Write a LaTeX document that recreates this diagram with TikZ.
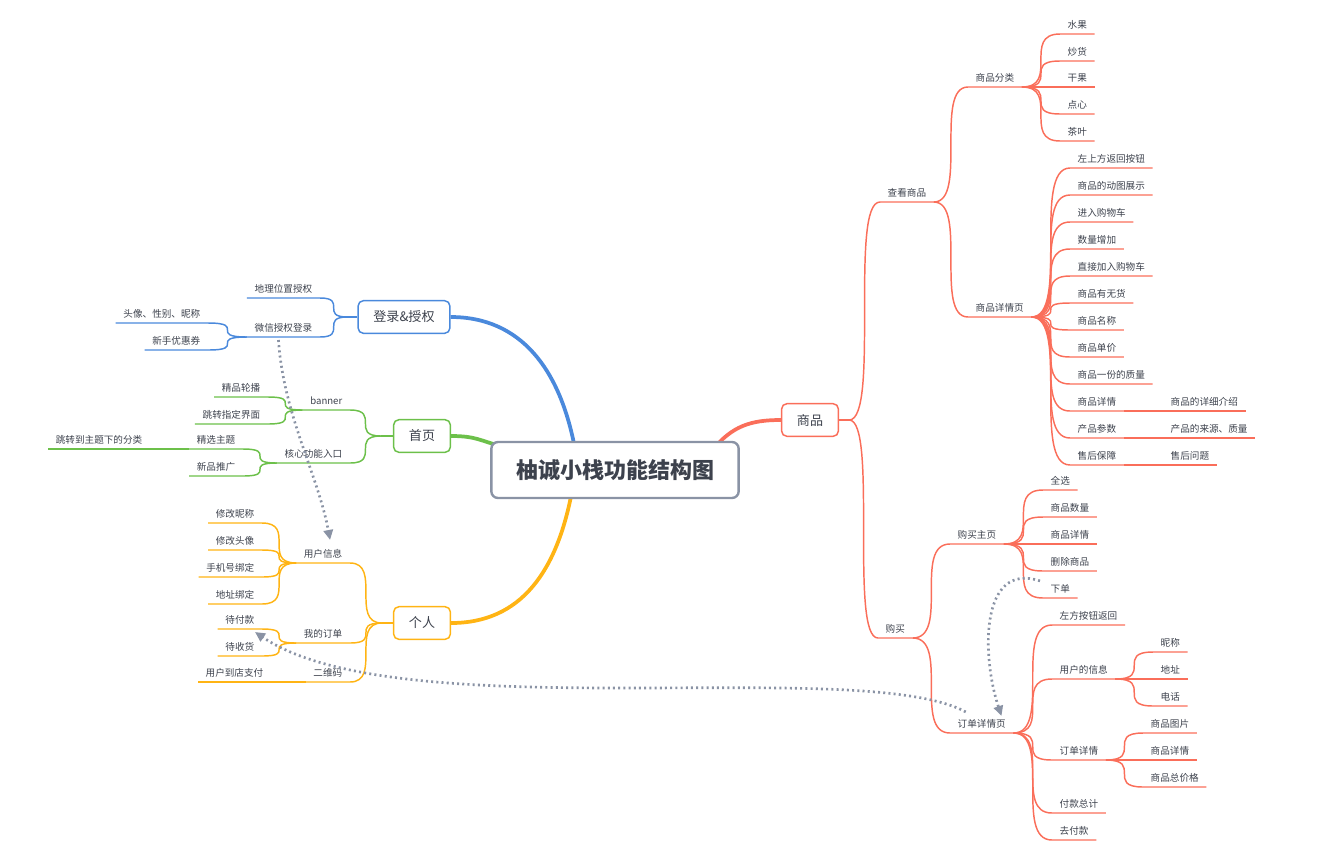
\documentclass[tikz,border=0pt]{standalone}
\usepackage{fontspec}
\newfontfamily\cjk{Noto Sans CJK SC}
\usetikzlibrary{arrows.meta, calc, backgrounds}

\definecolor{ink}{RGB}{61,66,77}
\definecolor{goodsred}{RGB}{250,110,90}
\definecolor{loginblue}{RGB}{74,137,220}
\definecolor{homegreen}{RGB}{108,192,74}
\definecolor{meorange}{RGB}{255,180,20}
\definecolor{rootgray}{RGB}{138,147,165}

\newcommand\leaffont{\cjk\fontsize{7.2}{8.6}\selectfont}
\newcommand\topicfont{\cjk\fontsize{9.8}{11}\selectfont}

\tikzset{
  leaf/.style={font=\leaffont, text=ink, inner xsep=5.6pt, inner ysep=3.3pt,
    text height=6.3pt, text depth=1pt},
  topic/.style={draw=#1, fill=white, line width=1.1pt, rounded corners=4pt,
    minimum height=24.5pt, inner xsep=11.5pt, font=\topicfont, text=ink},
  rootbox/.style={draw=rootgray, fill=white, line width=1.8pt, rounded corners=5pt,
    minimum height=42pt, inner xsep=18.5pt, text=ink,
    font=\cjk\bfseries\fontsize{16.5}{20}\selectfont},
  goodsln/.style={draw=goodsred, line width=1.1pt},
  loginln/.style={draw=loginblue, line width=1.1pt},
  homeln/.style={draw=homegreen, line width=1.1pt},
  meln/.style={draw=meorange, line width=1.1pt},
  trunk/.style={line width=2.8pt},
  link/.style={to path={.. controls (\tikztostart -| \tikztotarget)
    and (\tikztotarget -| \tikztostart) .. (\tikztotarget)}},
  jump/.style={draw=rootgray, line width=2pt, dash pattern=on 1.5pt off 2.4pt,
    -{Triangle[length=7.5pt, width=7pt]}}
}

\begin{document}
\begin{tikzpicture}[x=0.75pt, y=-0.75pt]
  \useasboundingbox (0,0) rectangle (1331,854);

  % Centre and main topics
  \node[rootbox] (root) at (615,470) {柚诚小栈功能结构图};
  \node[topic=goodsred] (goods) at (810,420) {商品};
  \node[topic=loginblue] (login) at (404,317) {登录\&授权};
  \node[topic=homegreen] (home) at (422,436) {首页};
  \node[topic=meorange] (person) at (422,623) {个人};

  % Trunks
  \begin{scope}[on background layer]
    \draw[trunk, goodsred] ($(root.north east)+(-28,10)$) .. controls +(20,-25) and +(-30,0) .. (goods.west);
    \draw[trunk, loginblue] ($(root.north)+(-40,8)$) .. controls +(-15,-80) and +(70,0) .. (login.east);
    \draw[trunk, homegreen] (home.east) .. controls +(25,0) and +(-20,-5) .. ($(root.north west)+(10,5)$);
    \draw[trunk, meorange] ($(root.south)+(-43,-8)$) .. controls +(-15,80) and +(70,0) .. (person.east);
  \end{scope}

  % Forks next to the topic boxes
  \coordinate (gfork) at ($(goods.east)+(10,0)$);
  \coordinate (lfork) at ($(login.west)+(-10,0)$);
  \coordinate (hfork) at ($(home.west)+(-12,0)$);
  \coordinate (pfork) at ($(person.west)+(-11,0)$);
  \draw[goodsln] (goods.east) -- (gfork);
  \draw[loginln] (login.west) -- (lfork);
  \draw[homeln] (home.west) -- (hfork);
  \draw[meln] (person.west) -- (pfork);

  % ---- goods ----
  \foreach \x/\y/\n/\t in {880/202/see/查看商品, 878/638/buy/购买} {
    \node[leaf, anchor=south west] (\n) at (\x,\y) {\t};
    \draw[goodsln] (gfork) to[link] (\n.south west) -- (\n.south east);
  }
  \foreach \y/\n/\t in {87/cat/商品分类, 317/page/商品详情页} {
    \node[leaf, anchor=south west] (\n) at (968,\y) {\t};
    \draw[goodsln] (see.south east) to[link] (\n.south west) -- (\n.south east);
  }
  \foreach \y/\n/\t in {34/fruit/水果, 61/nuts/炒货, 87/dried/干果, 114/snack/点心, 141/tea/茶叶} {
    \node[leaf, anchor=south west] (\n) at (1060,\y) {\t};
    \draw[goodsln] (cat.south east) to[link] (\n.south west) -- (\n.south east);
  }
  \foreach \y/\n/\t in {168/back/左上方返回按钮, 195/gif/商品的动图展示, 222/cart/进入购物车,
      249/qty/数量增加, 276/addcart/直接加入购物车, 303/stock/商品有无货, 330/pname/商品名称,
      357/price/商品单价, 384/weight/商品一份的质量, 411/info/商品详情, 438/param/产品参数,
      465/after/售后保障} {
    \node[leaf, anchor=south west] (\n) at (1070,\y) {\t};
    \draw[goodsln] (page.south east) to[link] (\n.south west) -- (\n.south east);
  }
  \foreach \y/\p/\n/\t in {411/info/infox/商品的详细介绍, 438/param/paramx/产品的来源、质量,
      465/after/afterx/售后问题} {
    \node[leaf, anchor=south west] (\n) at (1163,\y) {\t};
    \draw[goodsln] (\p.south east) -- (\n.south west) -- (\n.south east);
  }
  \foreach \y/\n/\t in {544/bhome/购买主页, 733/order/订单详情页} {
    \node[leaf, anchor=south west] (\n) at (950,\y) {\t};
    \draw[goodsln] (buy.south east) to[link] (\n.south west) -- (\n.south east);
  }
  \foreach \y/\n/\t in {490/all/全选, 517/bqty/商品数量, 544/binfo/商品详情, 571/del/删除商品, 598/place/下单} {
    \node[leaf, anchor=south west] (\n) at (1043,\y) {\t};
    \draw[goodsln] (bhome.south east) to[link] (\n.south west) -- (\n.south east);
  }
  \foreach \y/\n/\t in {625/oback/左方按钮返回, 679/user/用户的信息, 760/odetail/订单详情,
      813/total/付款总计, 840/pay/去付款} {
    \node[leaf, anchor=south west] (\n) at (1052,\y) {\t};
    \draw[goodsln] (order.south east) to[link] (\n.south west) -- (\n.south east);
  }
  \foreach \y/\n/\t in {652/nick/昵称, 679/addr/地址, 706/tel/电话} {
    \node[leaf, anchor=south west] (\n) at (1153,\y) {\t};
    \draw[goodsln] (user.south east) to[link] (\n.south west) -- (\n.south east);
  }
  \foreach \y/\n/\t in {733/pic/商品图片, 760/gdetail/商品详情, 787/sum/商品总价格} {
    \node[leaf, anchor=south west] (\n) at (1143,\y) {\t};
    \draw[goodsln] (odetail.south east) to[link] (\n.south west) -- (\n.south east);
  }

  % ---- login ----
  \foreach \y/\n/\t in {298/geo/地理位置授权, 337/wechat/微信授权登录} {
    \node[leaf, anchor=south east] (\n) at (320,\y) {\t};
    \draw[loginln] (lfork) to[link] (\n.south east) -- (\n.south west);
  }
  \foreach \y/\n/\t in {323/avatar/头像、性别、昵称, 350/coupon/新手优惠券} {
    \node[leaf, anchor=south east] (\n) at (208,\y) {\t};
    \draw[loginln] (wechat.south west) to[link] (\n.south east) -- (\n.south west);
  }

  % ---- home ----
  \foreach \y/\n/\t in {410/banner/banner, 463/core/核心功能入口} {
    \node[leaf, anchor=south east] (\n) at (350,\y) {\t};
    \draw[homeln] (hfork) to[link] (\n.south east) -- (\n.south west);
  }
  \foreach \y/\n/\t in {397/carousel/精品轮播, 424/jumpto/跳转指定界面} {
    \node[leaf, anchor=south east] (\n) at (268,\y) {\t};
    \draw[homeln] (banner.south west) to[link] (\n.south east) -- (\n.south west);
  }
  \foreach \y/\n/\t in {449/theme/精选主题, 476/newp/新品推广} {
    \node[leaf, anchor=south east] (\n) at (243,\y) {\t};
    \draw[homeln] (core.south west) to[link] (\n.south east) -- (\n.south west);
  }
  \node[leaf, anchor=south east] (themecat) at (150,449) {跳转到主题下的分类};
  \draw[homeln] (theme.south west) -- (themecat.south east) -- (themecat.south west);

  % ---- person ----
  \foreach \y/\n/\t in {563/uinfo/用户信息, 643/myorder/我的订单, 682/qr/二维码} {
    \node[leaf, anchor=south east] (\n) at (350,\y) {\t};
    \draw[meln] (pfork) to[link] (\n.south east) -- (\n.south west);
  }
  \foreach \y/\n/\t in {523/nickm/修改昵称, 550/avatarm/修改头像, 577/phone/手机号绑定, 604/addrm/地址绑定} {
    \node[leaf, anchor=south east] (\n) at (262,\y) {\t};
    \draw[meln] (uinfo.south west) to[link] (\n.south east) -- (\n.south west);
  }
  \foreach \y/\n/\t in {629/topay/待付款, 656/toget/待收货} {
    \node[leaf, anchor=south east] (\n) at (262,\y) {\t};
    \draw[meln] (myorder.south west) to[link] (\n.south east) -- (\n.south west);
  }
  \node[leaf, anchor=south east] (store) at (271,682) {用户到店支付};
  \draw[meln] (qr.south west) -- (store.south east) -- (store.south west);

  % Jumps
  \draw[jump] ($(wechat.south)+(-5,3)$) .. controls +(5,75) and +(-12,-65) .. ($(uinfo.north)+(7,-4)$);
  \draw[jump] ($(place.north west)+(-3,2)$) .. controls +(-60,-20) and +(-20,-60) .. ($(order.north east)+(-12,2)$);
  \draw[jump] ($(order.north)+(-16,-2)$) .. controls +(-105,-57) and +(145,98) .. ($(topay.south east)+(-7,3)$);
\end{tikzpicture}
\end{document}
